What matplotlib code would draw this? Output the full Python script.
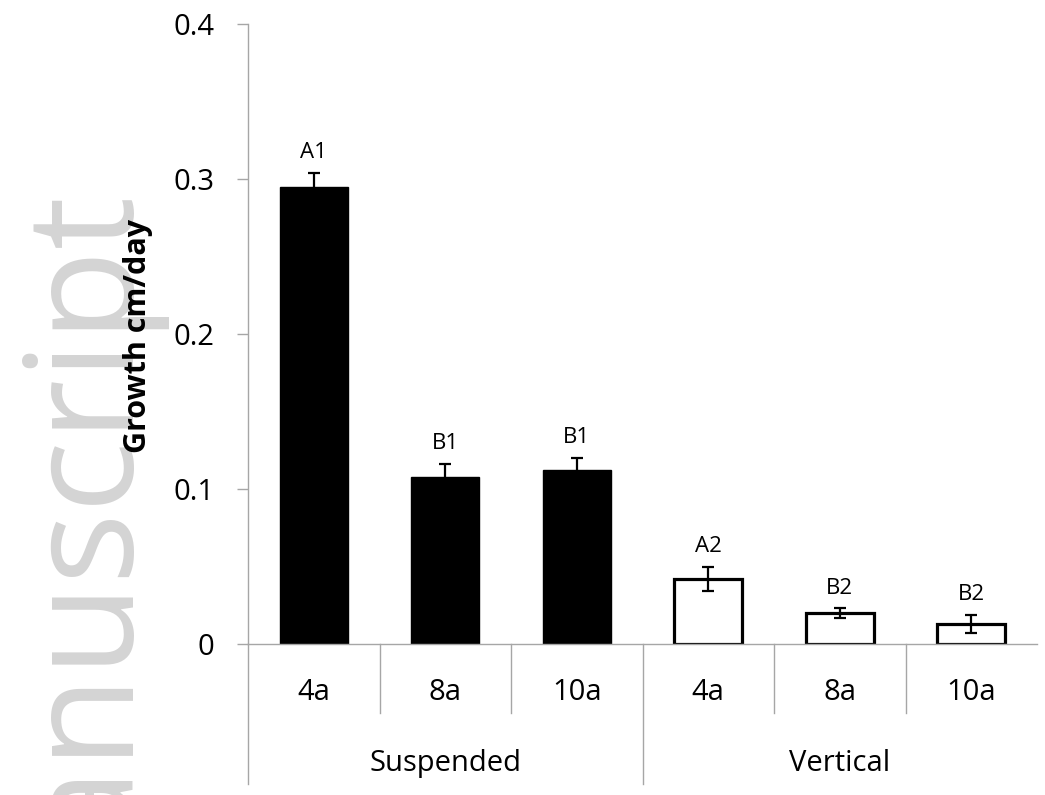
import numpy as np
import matplotlib
matplotlib.use("Agg")
import matplotlib.pyplot as plt
import matplotlib.transforms as mtransforms

# data
groups = ["Suspended", "Vertical"]
ages = ["4a", "8a", "10a"]
suspended = [0.295, 0.108, 0.112]
suspended_err = [0.009, 0.008, 0.008]
vertical = [0.042, 0.020, 0.013]
vertical_err = [0.008, 0.003, 0.006]
letters_susp = ["A1", "B1", "B1"]
letters_vert = ["A2", "B2", "B2"]

fig = plt.figure(figsize=(10.45, 7.95), dpi=100)
ax = fig.add_axes([248 / 1045, 1 - 644 / 795, 789 / 1045, 620 / 795])

# watermark from the source page (behind everything)
fig.text(121 / 1045, 1 - 183 / 795, "manuscript", rotation=90, rotation_mode="anchor",
         ha="right", va="baseline", fontsize=108, color="#d4d4d4",
         family="Open Sans", zorder=-5)

x_s = np.arange(3)
x_v = np.arange(3) + 3
w = 0.52
ax.bar(x_s, suspended, width=w, color="black", edgecolor="black", linewidth=1, zorder=2)
ax.bar(x_v, vertical, width=w, color="white", edgecolor="black", linewidth=2.3, zorder=2)
ax.errorbar(x_s, suspended, yerr=suspended_err, fmt="none", ecolor="black",
            elinewidth=1.6, capsize=4.5, capthick=1.6, zorder=3)
ax.errorbar(x_v, vertical, yerr=vertical_err, fmt="none", ecolor="black",
            elinewidth=1.6, capsize=4.5, capthick=1.6, zorder=3)

for xi, v, e, lab in zip(list(x_s) + list(x_v), suspended + vertical,
                         suspended_err + vertical_err, letters_susp + letters_vert):
    ax.annotate(lab, (xi, v + e), xytext=(0, 7), textcoords="offset points",
                ha="center", va="bottom", fontsize=16, family="Open Sans")

ax.set_xlim(-0.5, 5.5)
ax.set_ylim(0, 0.4)
ax.set_yticks([0, 0.1, 0.2, 0.3, 0.4])
ax.set_yticklabels(["0", "0.1", "0.2", "0.3", "0.4"], family="Open Sans", fontsize=21)
ax.tick_params(axis="y", length=8, width=1, color="#a6a6a6", pad=16)
ax.set_xticks([])

for s in ["top", "right"]:
    ax.spines[s].set_visible(False)
for s in ["left", "bottom"]:
    ax.spines[s].set_color("#a6a6a6")
    ax.spines[s].set_linewidth(1)

ax.set_ylabel("Growth cm/day", fontsize=22, fontweight="bold", family="Open Sans")
ax.yaxis.set_label_coords(-0.12, 0.497)

# two-level category axis
trans = mtransforms.blended_transform_factory(ax.transData, ax.transAxes)
for b in [0.5, 1.5, 3.5, 4.5]:
    ax.plot([b, b], [0, -0.111], color="#a6a6a6", lw=1, transform=trans, clip_on=False)
for b in [-0.5, 2.5]:
    ax.plot([b, b], [0, -0.225], color="#a6a6a6", lw=1, transform=trans, clip_on=False)

for i in range(6):
    ax.text(i, -0.079, ages[i % 3], transform=trans, ha="center", va="center",
            fontsize=21, family="Open Sans")
for g, name in enumerate(groups):
    ax.text(3 * g + 1, -0.192, name, transform=trans, ha="center", va="center",
            fontsize=21, family="Open Sans")

fig.savefig("out.png", dpi=100)
